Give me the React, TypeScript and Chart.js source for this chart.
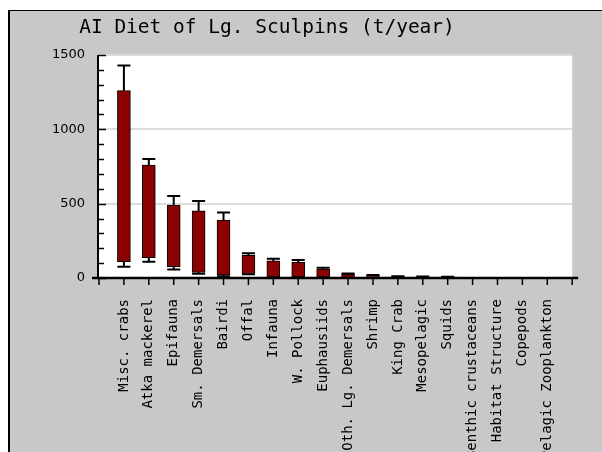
import React, { useEffect, useRef } from 'react';
import { Chart, registerables } from 'chart.js';

Chart.register(...registerables);

const TITLE = 'AI Diet of Lg. Sculpins (t/year)';

const categories = [
  'Misc. crabs',
  'Atka mackerel',
  'Epifauna',
  'Sm. Demersals',
  'Bairdi',
  'Offal',
  'Infauna',
  'W. Pollock',
  'Euphausiids',
  'Oth. Lg. Demersals',
  'Shrimp',
  'King Crab',
  'Mesopelagic',
  'Squids',
  'Benthic crustaceans',
  'Habitat Structure',
  'Copepods',
  'Pelagic Zooplankton',
];

// floating bar range (t/year)
const barLow = [110, 137, 76, 38, 20, 30, 4, 8, 5, 3, 2, 1, 1, 1, null, null, null, null];
const barHigh = [1260, 760, 491, 451, 390, 152, 115, 105, 60, 26, 16, 9, 8, 7, null, null, null, null];
// error whiskers (t/year)
const errLow = [76, 110, 58, 28, 12, 25, 3, 5, 3, 2, 1, 0.5, 0.5, 0.5, null, null, null, null];
const errHigh = [1430, 800, 551, 518, 440, 166, 130, 121, 69, 31, 20, 11, 10, 9, null, null, null, null];

const yMin = 0;
const yMax = 1500;
const yMajorStep = 500;
const yMinorStep = 100;

export default function App() {
  const ref = useRef<HTMLCanvasElement | null>(null);

  useEffect(() => {
    document.documentElement.style.overflow = 'hidden';
    document.body.style.overflow = 'hidden';
    const canvas = ref.current;
    if (!canvas) return;

    const xLabels = ['', ...categories, ''];
    const barData: any[] = [null];
    categories.forEach((_, i) => {
      const lo = barLow[i];
      const hi = barHigh[i];
      barData.push(lo == null || hi == null ? null : [lo, hi]);
    });
    barData.push(null);

    const decor = {
      id: 'decor',
      beforeDraw(chart: any) {
        const { ctx, chartArea: a } = chart;
        ctx.save();
        ctx.fillStyle = '#c8c8c8';
        ctx.fillRect(0, 0, chart.width, chart.height);
        ctx.fillStyle = '#ffffff';
        ctx.fillRect(a.left, a.top, a.right - a.left, a.bottom - a.top);
        ctx.restore();
      },
      afterDatasetsDraw(chart: any) {
        const { ctx } = chart;
        const xs = chart.scales.x;
        const ys = chart.scales.y;
        const half = 6.5;
        ctx.save();
        ctx.strokeStyle = '#000';
        ctx.lineWidth = 2;
        categories.forEach((_, i) => {
          const px = xs.getPixelForValue(i + 1);
          const bl = barLow[i];
          const bh = barHigh[i];
          const el = errLow[i];
          const eh = errHigh[i];
          if (bl == null || bh == null) return;
          if (eh != null && eh > bh) {
            const y0 = ys.getPixelForValue(bh);
            const y1 = ys.getPixelForValue(eh);
            ctx.beginPath();
            ctx.moveTo(px, y0);
            ctx.lineTo(px, y1);
            ctx.moveTo(px - half, y1);
            ctx.lineTo(px + half, y1);
            ctx.stroke();
          }
          if (el != null && el < bl) {
            const y0 = ys.getPixelForValue(bl);
            const y1 = ys.getPixelForValue(el);
            ctx.beginPath();
            ctx.moveTo(px, y0);
            ctx.lineTo(px, y1);
            ctx.moveTo(px - half, y1);
            ctx.lineTo(px + half, y1);
            ctx.stroke();
          }
        });
        ctx.restore();
      },
      afterDraw(chart: any) {
        const { ctx, chartArea: a } = chart;
        const xs = chart.scales.x;
        const ys = chart.scales.y;
        ctx.save();
        ctx.strokeStyle = '#000';
        // y axis line
        ctx.lineWidth = 2;
        ctx.beginPath();
        ctx.moveTo(a.left - 1, ys.getPixelForValue(yMax));
        ctx.lineTo(a.left - 1, a.bottom);
        ctx.stroke();
        // y ticks (inward)
        for (let v = yMin; v <= yMax; v += yMinorStep) {
          const py = Math.round(ys.getPixelForValue(v)) + 0.5;
          const len = v % yMajorStep === 0 ? 8 : 6;
          ctx.lineWidth = 1.5;
          ctx.beginPath();
          ctx.moveTo(a.left - 1, py);
          ctx.lineTo(a.left - 1 + len, py);
          ctx.stroke();
        }
        // x axis line
        ctx.lineWidth = 2.5;
        ctx.beginPath();
        ctx.moveTo(a.left - 7, a.bottom);
        ctx.lineTo(a.right + 6, a.bottom);
        ctx.stroke();
        // x ticks
        ctx.lineWidth = 1.5;
        for (let i = 0; i < xLabels.length; i++) {
          const px = xs.getPixelForTick(i);
          ctx.beginPath();
          ctx.moveTo(px, a.bottom);
          ctx.lineTo(px, a.bottom + 7);
          ctx.stroke();
        }
        // title
        ctx.fillStyle = '#000';
        ctx.font = '19.5px "DejaVu Sans Mono"';
        ctx.textAlign = 'center';
        ctx.textBaseline = 'middle';
        ctx.fillText(TITLE, a.left + 168, 17);
        ctx.restore();
      },
    };

    const chart = new Chart(canvas, {
      type: 'bar',
      data: {
        labels: xLabels,
        datasets: [
          {
            data: barData,
            backgroundColor: '#8b0000',
            borderColor: '#000000',
            borderWidth: 1,
            borderSkipped: false,
            barThickness: 13,
          } as any,
        ],
      },
      options: {
        animation: false,
        responsive: false,
        events: [],
        layout: { padding: { left: 0, top: 44, right: 23, bottom: 0 } },
        plugins: {
          legend: { display: false },
          title: { display: false },
          tooltip: { enabled: false },
        },
        scales: {
          x: {
            type: 'category',
            offset: false,
            grid: { display: false, offset: false },
            border: { display: false },
            ticks: {
              autoSkip: false,
              maxRotation: 90,
              minRotation: 90,
              color: '#000',
              padding: 13,
              font: { family: '"DejaVu Sans Mono"', size: 14 },
            },
            afterFit: (s: any) => {
              s.height = 174;
            },
          },
          y: {
            min: yMin,
            max: yMax,
            ticks: {
              stepSize: yMajorStep,
              color: '#000',
              padding: 14,
              font: { family: '"DejaVu Sans"', size: 13 },
              callback: (v: any) => String(v),
            },
            grid: {
              color: (c: any) => (c.tick && c.tick.value === 0 ? 'rgba(0,0,0,0)' : '#dddddd'),
              lineWidth: 2,
              drawTicks: false,
            },
            border: { display: false },
            afterFit: (s: any) => {
              s.width = 89;
            },
          },
        },
      },
      plugins: [decor],
    } as any);

    return () => {
      chart.destroy();
    };
  }, []);

  return (
    <div
      style={{
        position: 'absolute',
        left: 8,
        top: 10,
        width: 592,
        height: 441,
        borderTop: '1px solid #000',
        borderLeft: '2px solid #000',
        background: '#c8c8c8',
        overflow: 'hidden',
      }}
    >
      <canvas ref={ref} width={592} height={441} style={{ display: 'block' }} />
    </div>
  );
}
